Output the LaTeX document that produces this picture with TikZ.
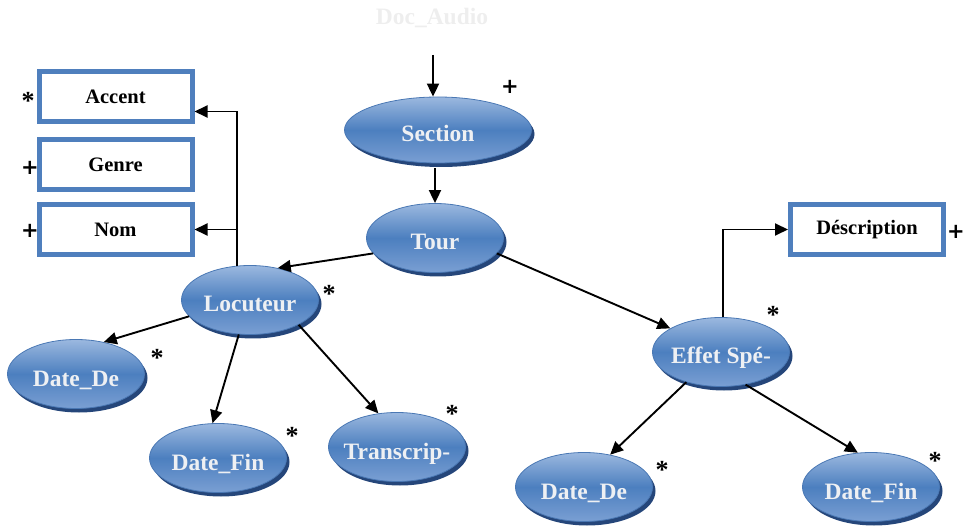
\documentclass[tikz,border=0pt]{standalone}
\usepackage{fontspec}
\setmainfont{Liberation Serif}
\newfontfamily\plusfont{DejaVu Sans}
\usetikzlibrary{arrows.meta,shapes.geometric,shadows}

\definecolor{ovTop}{HTML}{9BB8DF}
\definecolor{ovMid}{HTML}{4C7FBF}
\definecolor{ovBot}{HTML}{7A9FD3}
\definecolor{ovEdge}{HTML}{4A78B4}
\definecolor{ovShadow}{HTML}{25467A}
\definecolor{ovText}{HTML}{EEF0F3}
\definecolor{boxBlue}{HTML}{4F7FBD}
\definecolor{docGray}{HTML}{EEEEEE}

% oval captions: an empty box at the node centre, the text hanging a little low
\newcommand{\otxt}[1]{\makebox[0pt]{\smash{\raisebox{-12pt}{#1}}}}

\begin{document}
\begin{tikzpicture}[x=1pt,y=-1pt,
  oval/.style={ellipse, draw=ovEdge, line width=0.8pt,
    top color=ovTop, bottom color=ovBot, middle color=ovMid,
    minimum width=137pt, minimum height=69pt, inner sep=0pt,
    text=ovText, font=\fontsize{23.5}{26}\selectfont\bfseries,
    drop shadow={shadow xshift=3pt, shadow yshift=-4pt, fill=ovShadow, opacity=1}},
  attr/.style={draw=boxBlue, line width=5pt, fill=white,
    minimum width=153pt, minimum height=50pt, inner sep=0pt,
    font=\fontsize{20.5}{24}\selectfont\bfseries},
  star/.style={inner sep=0pt, font=\fontsize{26}{28}\selectfont\bfseries},
  plus/.style={inner sep=0pt, font=\fontsize{21}{24}\plusfont\bfseries},
  arr/.style={line width=1.9pt, -{Triangle[length=13pt,width=12pt]}}
]
\useasboundingbox (0,0) rectangle (964,529);

% root label
\node[font=\fontsize{23.5}{26}\selectfont\bfseries, text=docGray] (doc) at (432,18) {Doc\_Audio};
\coordinate (secin) at (433,55);

% element ovals
\node[oval, minimum width=187pt, minimum height=66pt] (sec) at (438,130) {\otxt{Section}};
\node[oval] (tour) at (435,238) {\otxt{Tour}};
\node[oval] (loc)  at (250,300) {\otxt{Locuteur}};
\node[oval] (dl)   at (76,374)  {\otxt{Date\_De}};
\node[oval] (fl)   at (218,458) {\otxt{Date\_Fin}};
\node[oval] (tr)   at (397,447) {\otxt{Transcrip-}};
\node[oval] (eff)  at (721,352) {\otxt{Effet Spé-}};
\node[oval] (dr)   at (584,487) {\otxt{Date\_De}};
\node[oval] (fr)   at (871,487) {\otxt{Date\_Fin}};

% attribute boxes
\node[attr] (acc)  at (115.5,96.5)  {Accent};
\node[attr] (gen)  at (115.5,164.5) {Genre};
\node[attr] (nom)  at (115.5,229.5) {Nom};
\node[attr] (desc) at (867,229.5)   {Déscription};

% occurrence marks
\node[plus] (m1)  at (510,87)  {+};
\node[star] (m2)  at (28,101)  {*};
\node[plus] (m3)  at (30,168)  {+};
\node[plus] (m4)  at (30,231)  {+};
\node[plus] (m5)  at (956,232) {+};
\node[star] (m6)  at (329,294) {*};
\node[star] (m7)  at (157,358) {*};
\node[star] (m8)  at (292,436) {*};
\node[star] (m9)  at (452,414) {*};
\node[star] (m10) at (773,315) {*};
\node[star] (m11) at (662,470) {*};
\node[star] (m12) at (935,461) {*};

% connectors
\draw[arr] (secin) -- (secin |- sec.north);
\draw[arr, shorten <=5pt] (tour.north |- sec.south) -- (tour.north);
\draw[arr] (tour.194) -- (loc.49);
\coordinate (lb) at (loc.111);
\draw[arr] (lb) |- ([yshift=-15pt]acc.east);
\draw[arr] (lb |- nom.east) -- (nom.east);
\draw[arr] (loc.195) -- (dl.49);
\draw[arr] (loc.252) -- (fl.99);
\draw[arr] (loc.333) -- (tr.119);
\draw[arr] (tour.346) -- (eff.155);
\draw[arr] ([xshift=2pt]eff.north) |- (desc.west);
\draw[arr] (eff.221) -- (dr.51);
\draw[arr] (eff.307) -- (fr.111);
\end{tikzpicture}
\end{document}
